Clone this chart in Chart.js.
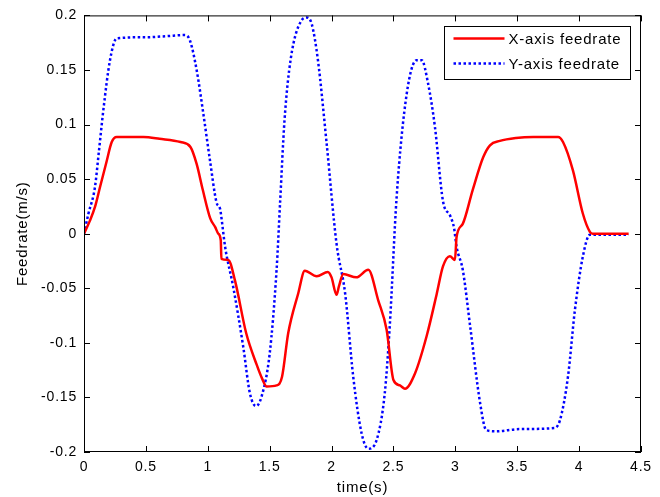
<!doctype html>
<html lang="en">
  <head>
    <meta charset="UTF-8" />
    <title>Feedrate</title>
    <script src="https://cdn.jsdelivr.net/npm/chart.js@4.4.0/dist/chart.umd.min.js"></script>
    <style>
      html, body { margin: 0; padding: 0; background: #fff; }
      #wrap { width: 660px; height: 497px; position: relative; }
    </style>
  </head>
  <body>
    <div id="wrap"><canvas id="feedChart" width="660" height="497"></canvas></div>
    <script>
// X-axis feedrate
const xTime = [0, 0.048, 0.09, 0.13, 0.18, 0.224, 0.264, 0.48, 0.61, 0.78, 0.86, 0.91, 0.96, 1.02, 1.06, 1.085, 1.105, 1.11,
  1.166, 1.22, 1.31, 1.395, 1.44, 1.476, 1.556, 1.60, 1.65, 1.73, 1.784, 1.88, 1.97, 2.0, 2.04, 2.06, 2.095, 2.20, 2.297,
  2.377, 2.445, 2.50, 2.553, 2.593, 2.674, 2.77, 2.85, 2.90, 2.956, 2.997, 3.01, 3.06, 3.14, 3.225, 3.28, 3.36, 3.49,
  3.63, 3.83, 3.87, 3.95, 4.03, 4.087, 4.11, 4.40];
const xFeed = [0, 0.012, 0.025, 0.043, 0.065, 0.084, 0.0886, 0.0886, 0.087, 0.084, 0.0795, 0.064, 0.040, 0.014, 0.006, 0.0, -0.006, -0.023,
  -0.024, -0.043, -0.091, -0.120, -0.133, -0.140, -0.139, -0.131, -0.091, -0.055, -0.034, -0.039, -0.035, -0.040, -0.056, -0.048, -0.037, -0.040, -0.033,
  -0.061, -0.088, -0.134, -0.139, -0.142, -0.128, -0.093, -0.055, -0.030, -0.0206, -0.024, -0.003, 0.009, 0.040, 0.070, 0.081, 0.085, 0.0877,
  0.0886, 0.0886, 0.084, 0.058, 0.0185, 0.0017, 0, 0];

// Y-axis feedrate
const yTime = [0, 0.035, 0.089, 0.12, 0.156, 0.21, 0.264, 0.506, 0.668, 0.816, 0.856, 0.91, 0.964, 1.018, 1.07, 1.10, 1.11, 1.14,
  1.206, 1.287, 1.34, 1.39, 1.435, 1.50, 1.556, 1.584, 1.62, 1.67, 1.755, 1.80, 1.84, 1.89, 1.96, 2.04, 2.11, 2.175, 2.243,
  2.297, 2.364, 2.43, 2.47, 2.526, 2.607, 2.687, 2.728, 2.78, 2.835, 2.90, 2.96, 2.99, 3.01, 3.06, 3.12, 3.20, 3.25, 3.33,
  3.52, 3.80, 3.845, 3.91, 3.966, 4.03, 4.087, 4.40];
const yFeed = [0, 0.018, 0.043, 0.075, 0.113, 0.159, 0.179, 0.180, 0.181, 0.182, 0.177, 0.150, 0.110, 0.067, 0.029, 0.0225, 0.015, -0.012,
  -0.049, -0.104, -0.146, -0.158, -0.149, -0.110, -0.033, 0.028, 0.104, 0.160, 0.195, 0.198, 0.192, 0.159, 0.083, -0.009, -0.055, -0.131, -0.183,
  -0.197, -0.189, -0.146, -0.085, 0.034, 0.128, 0.159, 0.159, 0.1375, 0.098, 0.030, 0.016, 0.005, -0.012, -0.033, -0.085, -0.155, -0.180, -0.181,
  -0.179, -0.178, -0.171, -0.131, -0.070, -0.021, -0.001, -0.001];

const xTicks = [0, 0.5, 1, 1.5, 2, 2.5, 3, 3.5, 4, 4.5];
const xTickLabels = ['0', '0.5', '1', '1.5', '2', '2.5', '3', '3.5', '4', '4.5'];
const yTicks = [-0.2, -0.15, -0.1, -0.05, 0, 0.05, 0.1, 0.15, 0.2];
const yTickLabels = ['-0.2', '-0.15', '-0.1', '-0.05', '0', '0.05', '0.1', '0.15', '0.2'];

const seriesNames = ['X-axis feedrate', 'Y-axis feedrate'];

const FONT = 'Liberation Sans, Arial, Helvetica, sans-serif';

function pts(t, v) {
    return t.map((x, i) => ({ x: x, y: v[i] }));
}

// MATLAB style box with inward ticks plus the boxed legend
const boxPlugin = {
    id: 'boxPlugin',
    beforeDraw(chart) {
        // a bit of tracking, the reference text is set wide
        chart.ctx.letterSpacing = '0.8px';
    },
    afterDraw(chart) {
        const ctx = chart.ctx;
        const a = chart.chartArea;
        const xs = chart.scales.x, ys = chart.scales.y;
        ctx.save();
        ctx.strokeStyle = '#000';
        ctx.lineWidth = 1;
        ctx.strokeRect(a.left + 0.5, a.top + 0.5, a.right - a.left - 1, a.bottom - a.top - 1);
        const len = 6;
        ctx.beginPath();
        xTicks.forEach(v => {
            const px = Math.round(xs.getPixelForValue(v)) + 0.5;
            ctx.moveTo(px, a.bottom); ctx.lineTo(px, a.bottom - len);
            ctx.moveTo(px, a.top); ctx.lineTo(px, a.top + len);
        });
        yTicks.forEach(v => {
            const py = Math.round(ys.getPixelForValue(v)) + 0.5;
            ctx.moveTo(a.left, py); ctx.lineTo(a.left + len, py);
            ctx.moveTo(a.right, py); ctx.lineTo(a.right - len, py);
        });
        ctx.stroke();

        // legend
        const lx = 444.5, ly = 26.5, lw = 186, lh = 53;
        ctx.fillStyle = '#fff';
        ctx.fillRect(lx, ly, lw, lh);
        ctx.strokeRect(lx, ly, lw, lh);
        ctx.font = '15px ' + FONT;
        ctx.letterSpacing = '0.8px';
        ctx.textBaseline = 'middle';
        ctx.fillStyle = '#000';
        const rows = [
            { y: ly + 12, color: '#ff0000', dash: [] },
            { y: ly + 37, color: '#0000ff', dash: [2.5, 2.5] }
        ];
        rows.forEach((r, i) => {
            ctx.beginPath();
            ctx.setLineDash(r.dash);
            ctx.strokeStyle = r.color;
            ctx.lineWidth = 2.5;
            ctx.moveTo(lx + 9, r.y);
            ctx.lineTo(lx + 60, r.y);
            ctx.stroke();
            ctx.setLineDash([]);
            ctx.fillText(seriesNames[i], lx + 64, r.y + 1);
        });
        ctx.restore();
    }
};

const ctx = document.getElementById('feedChart').getContext('2d');
const feedChart = new Chart(ctx, {
    type: 'line',
    data: {
        datasets: [{
            label: seriesNames[0],
            data: pts(xTime, xFeed),
            borderColor: '#ff0000',
            borderWidth: 2.5,
            pointRadius: 0,
            cubicInterpolationMode: 'monotone',
            fill: false
        }, {
            label: seriesNames[1],
            data: pts(yTime, yFeed),
            borderColor: '#0000ff',
            borderWidth: 2.5,
            borderDash: [2.5, 2.5],
            pointRadius: 0,
            cubicInterpolationMode: 'monotone',
            fill: false
        }]
    },
    options: {
        responsive: false,
        animation: false,
        devicePixelRatio: 1,
        layout: { padding: { left: 0, right: 19, top: 15, bottom: 0 } },
        plugins: {
            legend: { display: false },
            tooltip: { enabled: false }
        },
        scales: {
            x: {
                type: 'linear',
                min: 0,
                max: 4.5,
                afterBuildTicks: s => { s.ticks = xTicks.map(v => ({ value: v })); },
                afterFit: s => { s.height = 45; },
                grid: { display: false, drawTicks: false },
                border: { display: false },
                ticks: {
                    color: '#000',
                    padding: 7,
                    maxRotation: 0,
                    font: { family: FONT, size: 14 },
                    callback: (v, i) => xTickLabels[i]
                },
                title: {
                    display: true,
                    text: 'time(s)',
                    color: '#000',
                    padding: { top: 1, bottom: 0 },
                    font: { family: FONT, size: 15 }
                }
            },
            y: {
                min: -0.2,
                max: 0.2,
                afterBuildTicks: s => { s.ticks = yTicks.map(v => ({ value: v })); },
                afterFit: s => { s.width = 84; },
                grid: { display: false, drawTicks: false },
                border: { display: false },
                ticks: {
                    color: '#000',
                    padding: 7,
                    font: { family: FONT, size: 14 },
                    callback: (v, i) => yTickLabels[i]
                },
                title: {
                    display: true,
                    text: 'Feedrate(m/s)',
                    color: '#000',
                    padding: { top: 14, bottom: 0 },
                    font: { family: FONT, size: 15 }
                }
            }
        }
    },
    plugins: [boxPlugin]
});
    </script>
  </body>
</html>
